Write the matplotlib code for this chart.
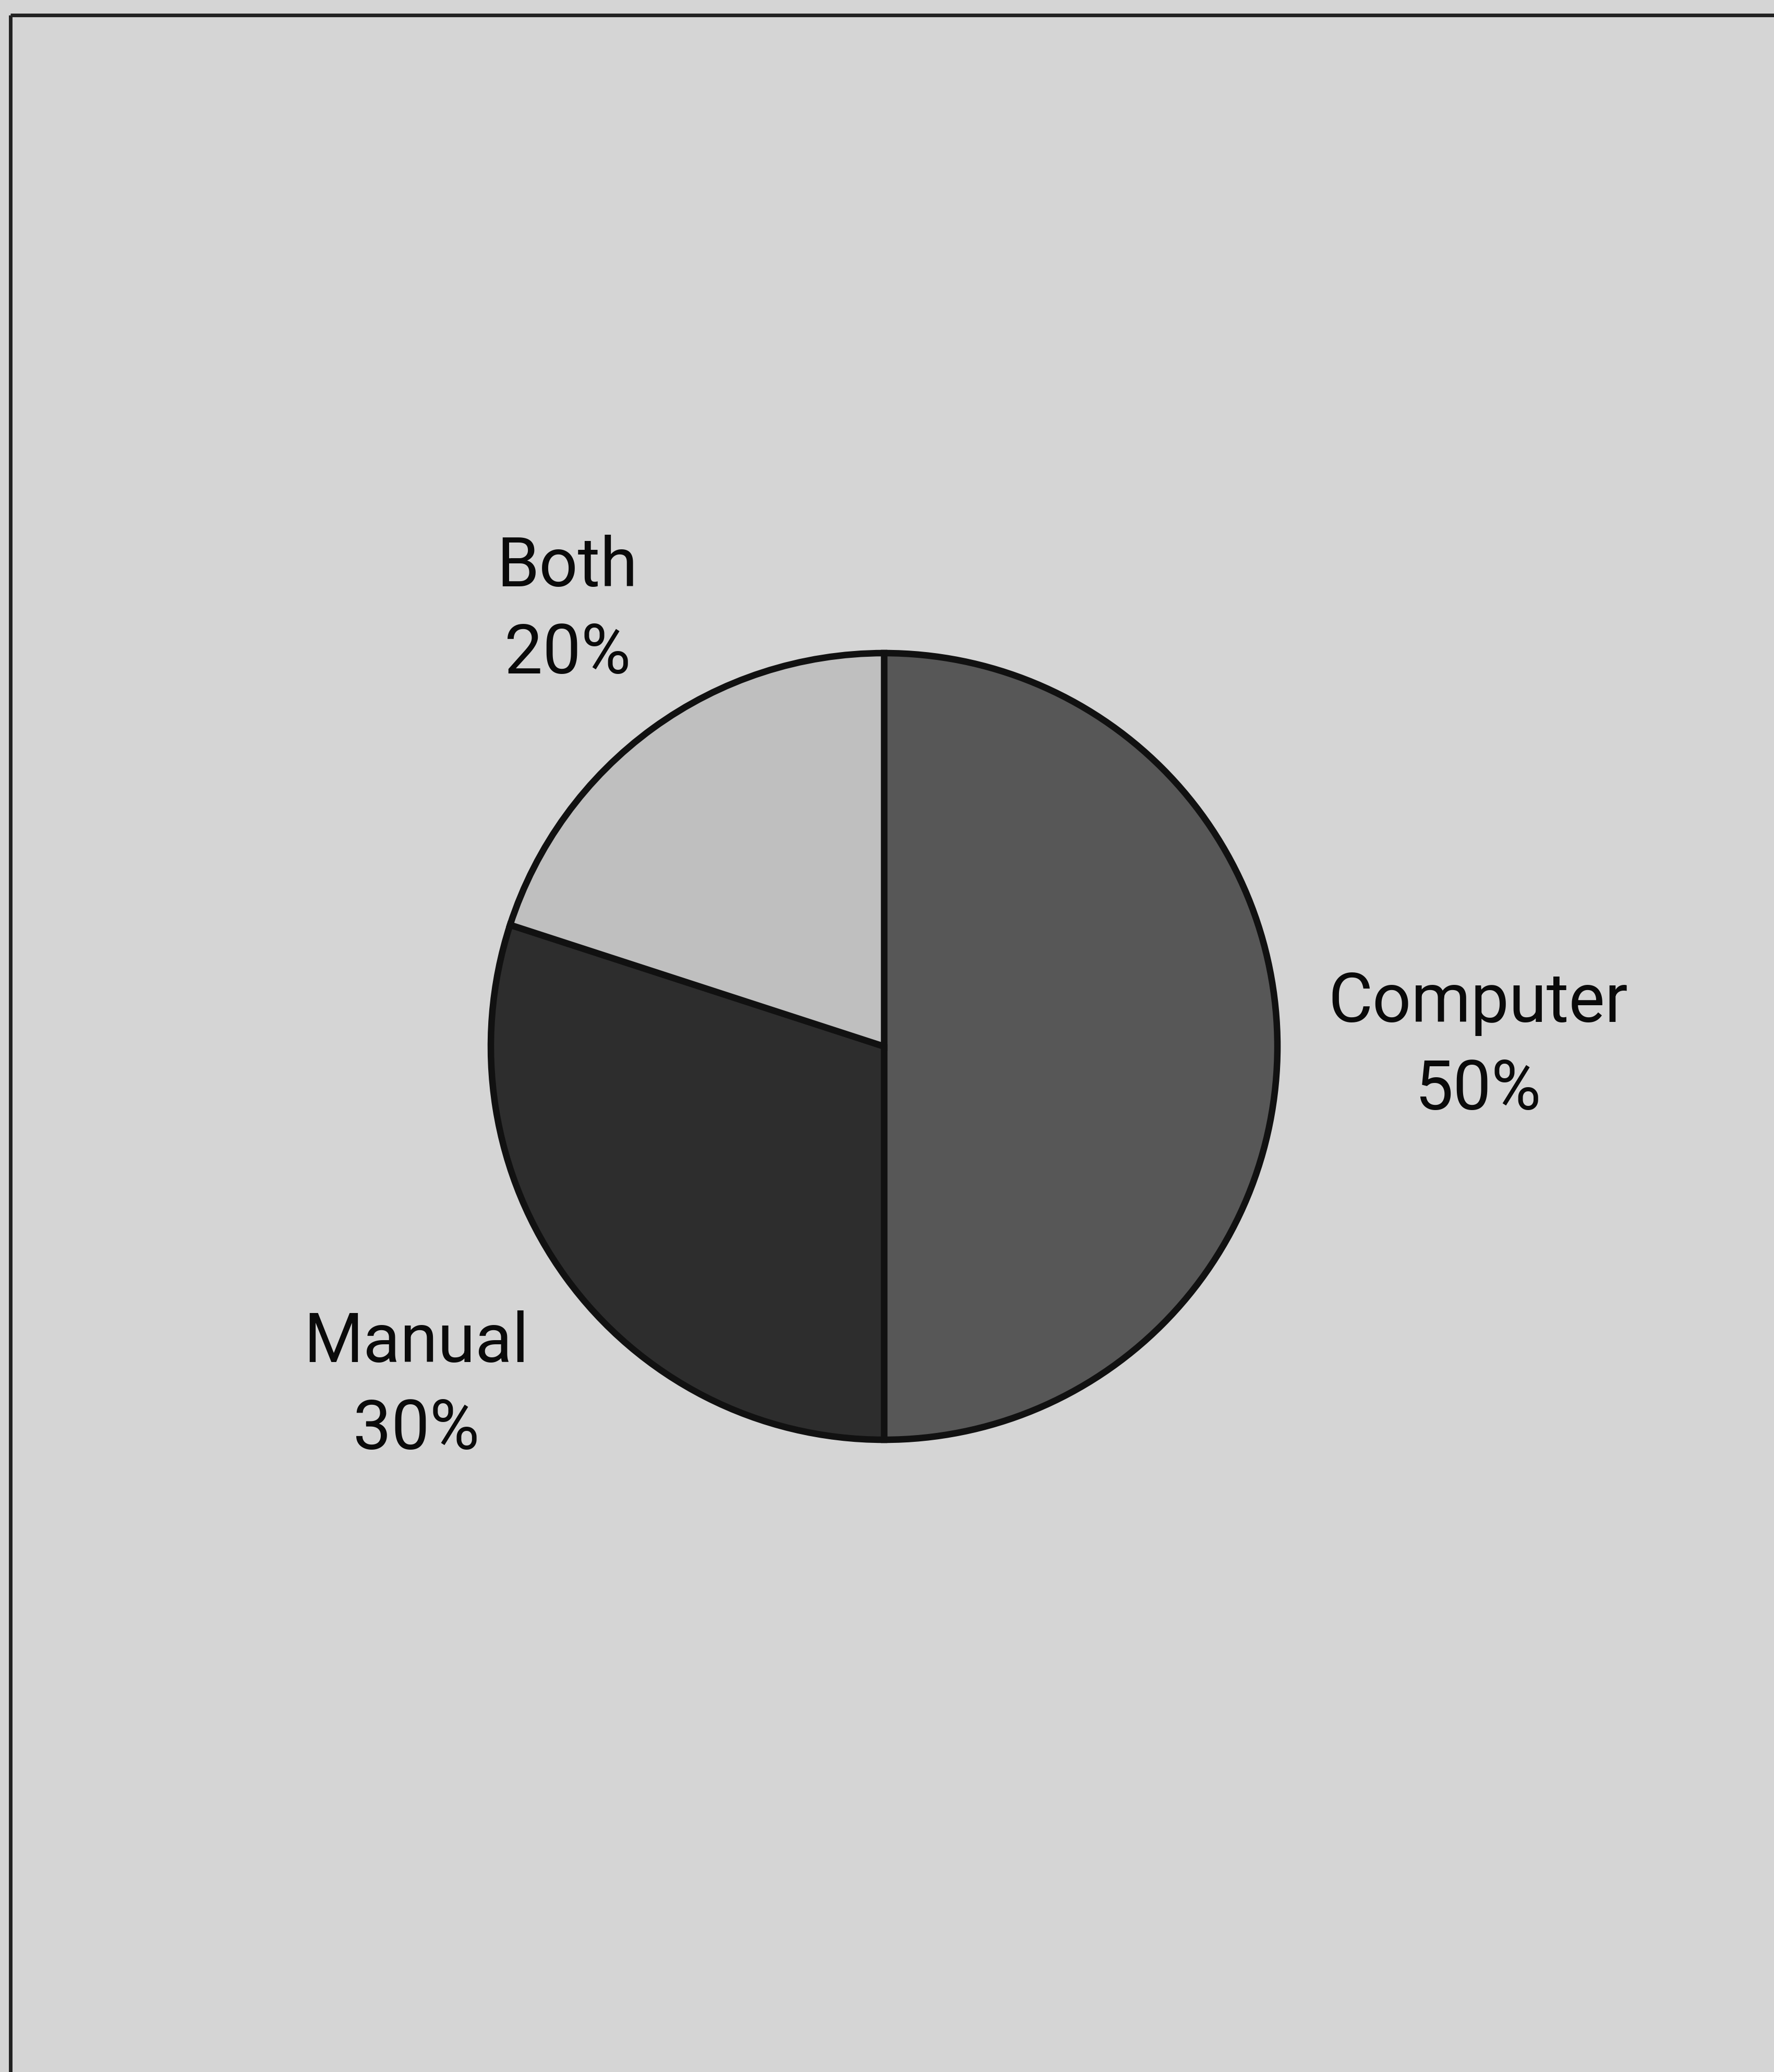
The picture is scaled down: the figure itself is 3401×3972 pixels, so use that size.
import numpy as np
import matplotlib
matplotlib.use("Agg")
import matplotlib.pyplot as plt

# survey split: how the work is done
categories = ["Computer", "Manual", "Both"]
shares = [50, 30, 20]
colours = ["#575757", "#2d2d2d", "#bfbfbf"]

W, H = 3401, 3973
DPI = 100

fig = plt.figure(figsize=(W / DPI, H / DPI), dpi=DPI)
fig.patch.set_facecolor("#d5d5d5")
ax = fig.add_axes([0, 0, 1, 1])
ax.set_xlim(0, W)
ax.set_ylim(0, H)
ax.set_aspect("equal")
ax.axis("off")

# frame: only the top and left edges show
ax.plot([20, W], [H - 30, H - 30], color="#222222", lw=5, solid_capstyle="butt")
ax.plot([20, 20], [H - 30, 0], color="#222222", lw=5, solid_capstyle="butt")

cx, cy, r = 1695, H - 2007, 754
wedges, _ = ax.pie(shares, colors=colours, startangle=90, counterclock=False,
                   center=(cx, cy), radius=r,
                   wedgeprops=dict(edgecolor="#111111", linewidth=9))
ax.set_xlim(0, W)
ax.set_ylim(0, H)

# label distance per wedge (in radii)
label_dist = [1.51, 1.47, 1.37]
total = sum(shares)
for w, name, val, d in zip(wedges, categories, shares, label_dist):
    mid = np.deg2rad((w.theta1 + w.theta2) / 2)
    x = cx + d * r * np.cos(mid)
    y = cy + d * r * np.sin(mid)
    ax.text(x, y, f"{name}\n{round(100 * val / total)}%", ha="center", va="center",
            fontsize=94, family="Roboto", fontweight="normal", linespacing=1.42,
            color="#0a0a0a")

fig.savefig("out.png", dpi=DPI, facecolor=fig.get_facecolor())
